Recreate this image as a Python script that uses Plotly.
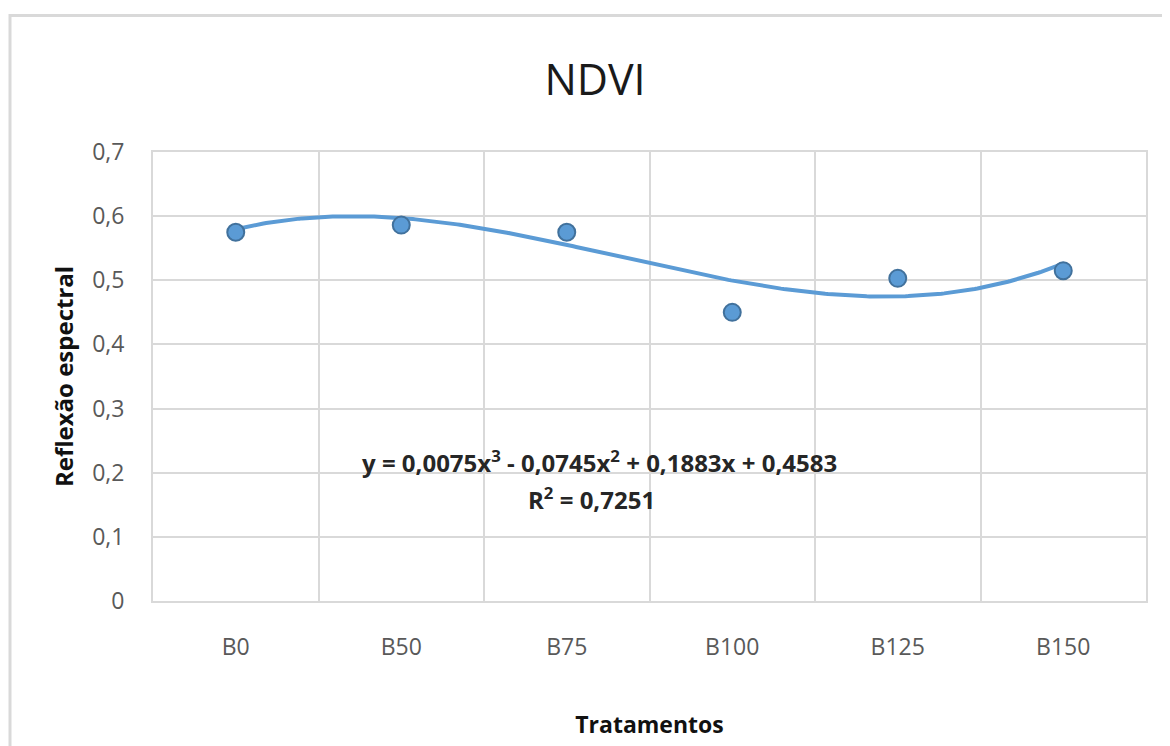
import numpy as np
import plotly.graph_objects as go

categories = ["B0", "B50", "B75", "B100", "B125", "B150"]
ndvi = [0.575, 0.586, 0.575, 0.450, 0.503, 0.515]
trend_coefs = [0.0075, -0.0745, 0.1883, 0.4583]  # cubic, x^3..x^0
y_ticks = [0, 0.1, 0.2, 0.3, 0.4, 0.5, 0.6, 0.7]
y_tick_labels = ["0", "0,1", "0,2", "0,3", "0,4", "0,5", "0,6", "0,7"]
equation_text = "y = 0,0075x<sup>3</sup> - 0,0745x<sup>2</sup> + 0,1883x + 0,4583"
r2_text = "R<sup>2</sup> = 0,7251"

xpos = list(range(1, len(categories) + 1))
xs = np.linspace(1, len(categories), 300)
ys = np.polyval(trend_coefs, xs)

FONT = "Open Sans"
BLUE = "#5b9bd5"
GRID = "#d9d9d9"

# page body has an 8px margin: figure coords = page coords - 8
W, H = 1162, 738
L, T, R, B = 145, 144, 1162 - 1138, 738 - 595
PW, PH = W - L - R, H - T - B

fig = go.Figure()
fig.add_trace(go.Scatter(x=xs, y=ys, mode="lines",
                         line=dict(color=BLUE, width=4), hoverinfo="skip",
                         showlegend=False))
fig.add_trace(go.Scatter(x=xpos, y=ndvi, mode="markers",
                         marker=dict(color=BLUE, size=17, symbol="circle",
                                     line=dict(color="#41719c", width=2)),
                         showlegend=False))

fig.update_layout(
    width=W, height=H,
    margin=dict(l=L, r=R, t=T, b=B),
    paper_bgcolor="white", plot_bgcolor="white",
    font=dict(family=FONT, color="#595959"),
    title=dict(text="NDVI", x=(595 - 8) / W, xanchor="center",
               y=1 - (80 - 8) / H, yanchor="middle", yref="container",
               font=dict(family=FONT, size=43, color="#1a1a1a")),
    xaxis=dict(
        range=[0.5, len(categories) + 0.5],
        tickmode="array", tickvals=xpos, ticktext=categories,
        showgrid=False, zeroline=False,
        showline=True, linecolor=GRID, linewidth=2, mirror=True,
        ticks="", ticklabelstandoff=24,
        tickfont=dict(family=FONT, size=23, color="#595959"),
        minor=dict(tickmode="array",
                   tickvals=[i + 0.5 for i in range(0, len(categories) + 1)],
                   showgrid=True, gridcolor=GRID, gridwidth=2, ticks=""),
        title=dict(text="<b>Tratamentos</b>", standoff=56,
                   font=dict(family=FONT, size=23, color="#111111")),
    ),
    yaxis=dict(
        range=[0, 0.7],
        tickmode="array", tickvals=y_ticks, ticktext=y_tick_labels,
        showgrid=True, gridcolor=GRID, gridwidth=2,
        zeroline=False,
        showline=True, linecolor=GRID, linewidth=2, mirror=True,
        ticks="", ticklabelstandoff=22,
        tickfont=dict(family=FONT, size=23, color="#595959"),
        title=dict(text="<b>Reflexão espectral</b>", standoff=12,
                   font=dict(family=FONT, size=24, color="#111111")),
    ),
    shapes=[dict(type="rect", xref="paper", yref="paper",
                 x0=(10 - 8 - L) / PW, x1=1.2,
                 y0=-0.6, y1=(PH + T - (15 - 8)) / PH,
                 line=dict(color=GRID, width=3), fillcolor="rgba(0,0,0,0)",
                 layer="below")],
    annotations=[
        dict(text="<b>" + equation_text + "</b>", x=3.2, y=0.217,
             xref="x", yref="y", showarrow=False, xanchor="center",
             yanchor="middle",
             font=dict(family=FONT, size=24, color="#262626")),
        dict(text="<b>" + r2_text + "</b>", x=3.15, y=0.160,
             xref="x", yref="y", showarrow=False, xanchor="center",
             yanchor="middle",
             font=dict(family=FONT, size=24, color="#262626")),
    ],
)

fig.write_html("out.html")
